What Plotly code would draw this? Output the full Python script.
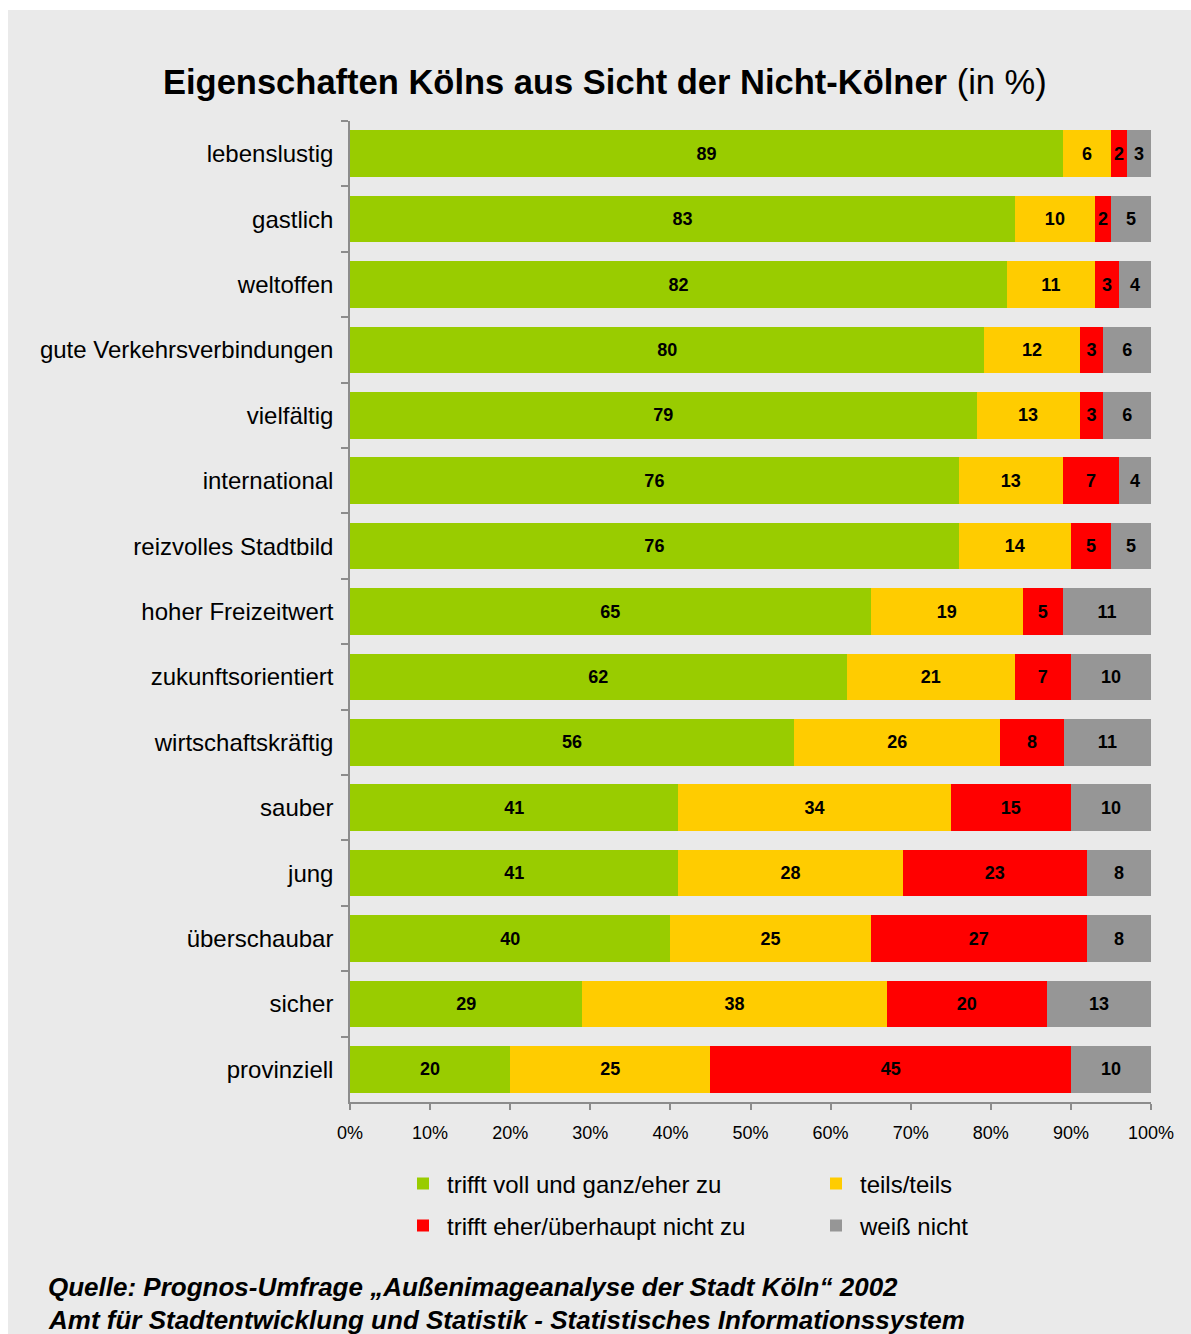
import plotly.graph_objects as go

# Survey answers per attribute (percent of respondents)
categories = [
    "lebenslustig", "gastlich", "weltoffen", "gute Verkehrsverbindungen",
    "vielfältig", "international", "reizvolles Stadtbild", "hoher Freizeitwert",
    "zukunftsorientiert", "wirtschaftskräftig", "sauber", "jung",
    "überschaubar", "sicher", "provinziell",
]
trifft_zu = [89, 83, 82, 80, 79, 76, 76, 65, 62, 56, 41, 41, 40, 29, 20]
teils = [6, 10, 11, 12, 13, 13, 14, 19, 21, 26, 34, 28, 25, 38, 25]
trifft_nicht_zu = [2, 2, 3, 3, 3, 7, 5, 5, 7, 8, 15, 23, 27, 20, 45]
weiss_nicht = [3, 5, 4, 6, 6, 4, 5, 11, 10, 11, 10, 8, 8, 13, 10]

series_names = [
    "trifft voll und ganz/eher zu",
    "teils/teils",
    "trifft eher/überhaupt nicht zu",
    "weiß nicht",
]
series_values = [trifft_zu, teils, trifft_nicht_zu, weiss_nicht]
series_colors = ["#99CC00", "#FFCC00", "#FF0000", "#969696"]
series_legends = ["legend", "legend2", "legend3", "legend4"]

x_ticks = list(range(0, 101, 10))
x_ticktext = [f"{v}%" for v in x_ticks]

FONT = "Liberation Sans, Arial, sans-serif"

W, H = 1191, 1334
L, R, T, B = 350, 40, 121, 232
PW, PH = W - L - R, H - T - B


def px_x(px):
    return (px - L) / PW


def px_y(py):
    return (H - B - py) / PH


fig = go.Figure()
for name, vals, col, lg in zip(series_names, series_values, series_colors, series_legends):
    fig.add_trace(go.Bar(
        y=categories,
        x=vals,
        name=name,
        orientation="h",
        marker=dict(color=col, line=dict(width=0)),
        text=vals,
        textposition="inside",
        insidetextanchor="middle",
        constraintext="none",
        textangle=0,
        textfont=dict(family=FONT, size=18, color="black", weight="bold"),
        legend=lg,
    ))

# legend entries laid out on a 2x2 grid (column left edge px, row centre px)
legend_cells = [(399, 1184), (812, 1184), (399, 1226), (812, 1226)]
legend_layouts = {}
for lg, (lx, ly) in zip(series_legends, legend_cells):
    legend_layouts[lg] = dict(
        orientation="h", x=px_x(lx), y=px_y(ly), xanchor="left", yanchor="middle",
        itemwidth=38,
        font=dict(family=FONT, size=24, color="black"),
        bgcolor="rgba(0,0,0,0)",
    )

fig.update_layout(
    width=W, height=H,
    margin=dict(l=L, r=R, t=T, b=B, pad=0),
    barmode="stack",
    barnorm="percent",
    bargap=0.285,
    paper_bgcolor="white",
    plot_bgcolor="rgba(0,0,0,0)",
    font=dict(family=FONT, color="black"),
    showlegend=True,
    **legend_layouts,
    xaxis=dict(
        range=[0, 100], tickvals=x_ticks, ticktext=x_ticktext,
        showgrid=False, zeroline=False,
        showline=True, linecolor="#8c8c8c", linewidth=1.5,
        ticks="outside", ticklen=6, tickcolor="#8c8c8c", tickwidth=1.5,
        tickfont=dict(family=FONT, size=18, color="black"),
        ticklabelstandoff=8, fixedrange=True,
    ),
    yaxis=dict(
        autorange="reversed", showgrid=False, zeroline=False,
        showline=True, linecolor="#8c8c8c", linewidth=1.5,
        ticks="outside", ticklen=7, tickcolor="#8c8c8c", tickwidth=1.5,
        tickson="boundaries",
        tickfont=dict(family=FONT, size=24, color="black"),
        ticklabelstandoff=10, fixedrange=True,
    ),
    shapes=[dict(
        type="rect", xref="paper", yref="paper", layer="below",
        x0=px_x(8), x1=px_x(W + 5), y0=px_y(H + 5), y1=px_y(10),
        fillcolor="#EAEAEA", line=dict(width=0),
    )],
    annotations=[
        dict(
            text="<b>Eigenschaften Kölns aus Sicht der Nicht-Kölner</b> (in %)",
            xref="paper", yref="paper", x=px_x(605), y=px_y(82),
            xanchor="center", yanchor="middle", showarrow=False,
            font=dict(family=FONT, size=34.5, color="black"),
        ),
        dict(
            text="<b><i>Quelle: Prognos-Umfrage „Außenimageanalyse der Stadt Köln“ 2002</i></b>",
            xref="paper", yref="paper", x=px_x(46), y=px_y(1287),
            xanchor="left", yanchor="middle", showarrow=False,
            font=dict(family=FONT, size=26, color="black"),
        ),
        dict(
            text="<b><i>Amt für Stadtentwicklung und Statistik - Statistisches Informationssystem</i></b>",
            xref="paper", yref="paper", x=px_x(46), y=px_y(1320),
            xanchor="left", yanchor="middle", showarrow=False,
            font=dict(family=FONT, size=26, color="black"),
        ),
    ],
)

fig.write_html("out.html")
